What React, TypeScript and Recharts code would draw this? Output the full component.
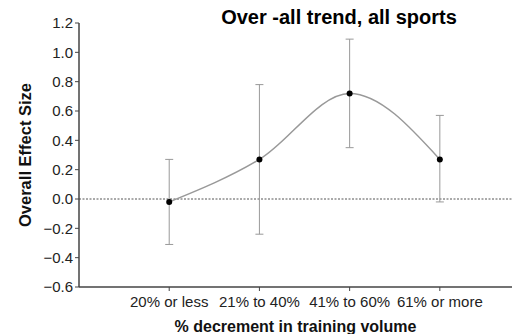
import React from 'react';
import { ComposedChart, Line, XAxis, YAxis, ReferenceLine, ErrorBar } from 'recharts';

const categories = ['20% or less', '21% to 40%', '41% to 60%', '61% or more'];
const effectSizes = [-0.02, 0.27, 0.72, 0.27];
const lowerCI = [-0.31, -0.24, 0.35, -0.02];
const upperCI = [0.27, 0.78, 1.09, 0.57];
const yTicks = [-0.6, -0.4, -0.2, 0, 0.2, 0.4, 0.6, 0.8, 1.0, 1.2];

const data = categories.map((c, i) => ({
  x: i + 1,
  name: c,
  y: effectSizes[i],
  err: [effectSizes[i] - lowerCI[i], upperCI[i] - effectSizes[i]],
}));

const FONT = '"Liberation Sans", Arial, Helvetica, sans-serif';

const fmtY = (v: number) => {
  const s = Math.abs(v).toFixed(1);
  return v < -1e-9 ? '\u2212' + s : s;
};

export default function App() {
  return (
    <div style={{ position: 'absolute', left: 0, top: 0, width: 512, height: 334, background: '#fff', fontFamily: FONT }}>
      <div
        style={{
          position: 'absolute',
          left: 180,
          width: 318,
          top: 6,
          textAlign: 'center',
          fontWeight: 'bold',
          fontSize: 20,
          color: '#000',
          lineHeight: '22px',
          whiteSpace: 'nowrap',
        }}
      >
        Over -all trend, all sports
      </div>
      <ComposedChart
        width={512}
        height={334}
        data={data}
        margin={{ top: 23, right: 0, bottom: 0, left: 0 }}
        style={{ fontFamily: FONT }}
      >
        <XAxis
          dataKey="x"
          type="number"
          domain={[0, 4.8]}
          ticks={[1, 2, 3, 4]}
          tickFormatter={(v: number) => categories[v - 1] ?? ''}
          axisLine={{ stroke: '#444', strokeWidth: 1.5 }}
          tickLine={{ stroke: '#444' }}
          tickSize={4}
          tickMargin={5}
          tick={{ fill: '#222', fontSize: 15 }}
          interval={0}
          height={47}
          label={{ value: '% decrement in training volume', position: 'insideBottom', offset: 2, fill: '#111', fontSize: 16, fontWeight: 'bold' }}
        />
        <YAxis
          type="number"
          domain={[-0.6, 1.2]}
          ticks={yTicks}
          tickFormatter={fmtY}
          width={79}
          axisLine={{ stroke: '#444', strokeWidth: 1.5 }}
          tickLine={{ stroke: '#444' }}
          tickSize={4}
          tick={{ fill: '#222', fontSize: 15 }}
          interval={0}
          label={{
            content: (props: any) => {
              const vb = props.viewBox || { x: 0, y: 23, width: 79, height: 264 };
              const cx = vb.x + 31;
              const cy = vb.y + vb.height / 2;
              return (
                <text
                  x={cx}
                  y={cy}
                  transform={`rotate(-90, ${cx}, ${cy})`}
                  textAnchor="middle"
                  fontSize={16.5}
                  fontWeight="bold"
                  fill="#111"
                  fontFamily={FONT}
                >
                  Overall Effect Size
                </text>
              );
            },
          }}
        />
        <ReferenceLine y={0} stroke="#555" strokeDasharray="2 1.5" strokeWidth={1} />
        <Line
          type="monotone"
          dataKey="y"
          stroke="#999"
          strokeWidth={1.5}
          dot={{ r: 3, fill: '#000', stroke: '#000', strokeWidth: 0 }}
          activeDot={false}
          isAnimationActive={false}
        >
          <ErrorBar dataKey="err" width={4} stroke="#999" strokeWidth={1} direction="y" />
        </Line>
      </ComposedChart>
    </div>
  );
}
